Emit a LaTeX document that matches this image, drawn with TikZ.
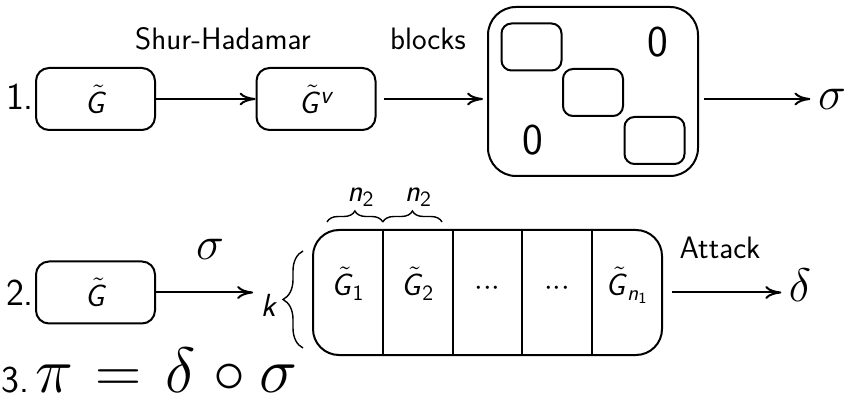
\documentclass[tikz,border=0pt]{standalone}
\usepackage{fix-cm}
\usepackage{amsmath}
\usepackage{tikz}
\usetikzlibrary{arrows.meta,positioning,decorations.pathreplacing}

\newcommand{\gtil}{\rlap{\hspace{2pt}$\tilde{\phantom{\textit{G}}}$}\textit{G}}
\newcommand{\cdts}{${\cdot}{\cdot}{\cdot}$}

\tikzset{
    txt/.style={font=\sffamily\fontsize{15.5}{18}\selectfont},
    num/.style={font=\sffamily\fontsize{19}{22}\selectfont},
    grk/.style={font=\fontsize{23.5}{28}\selectfont},
    zro/.style={font=\sffamily\fontsize{22}{26}\selectfont},
    sml/.style={font=\sffamily\fontsize{16}{19}\selectfont},
    box/.style={txt,draw,rounded corners=6.5pt,minimum width=59.5pt,minimum height=31pt,inner sep=0pt},
    sbox/.style={draw,rounded corners=5pt,minimum width=30pt,minimum height=23.5pt,inner sep=0pt},
    cell/.style={txt,minimum width=33.9pt,minimum height=61.5pt,inner sep=0pt,text height=8pt,text depth=4.5pt},
    arr/.style={-{To[length=8pt,width=6.5pt]}},
    brc/.style={decorate,decoration={brace,amplitude=#1},line width=0.7pt}
}

\begin{document}
\begin{tikzpicture}[x=0.5pt,y=-0.5pt,line width=1pt]
    \useasboundingbox (0,0) rectangle (846,395);

    \node[num] (one) at (20,97) {1.};
    \node[box] (g1) at (95.5,99) {\gtil};
    \node[box] (gv) at (316,99) {\gtil\raisebox{5pt}{\fontsize{12.5}{14}\selectfont\textit{v}}};
    \node[draw,rounded corners=14pt,minimum width=105pt,minimum height=84.5pt] (blk) at (593,91.5) {};
    \node[sbox] (b1) at (531.5,47) {};
    \node[sbox] (b2) at (593,92.5) {};
    \node[sbox] (b3) at (654.5,140.5) {};
    \node[zro] (z1) at (658,42.5) {0};
    \node[zro] (z2) at (533,140.5) {0};
    \node[grk] (sig1) at (832,99) {$\sigma$};
    \node[txt] (shur) at (223,39) {Shur-Hadamar};
    \node[txt] (blocks) at (428,39) {blocks};

    \draw[arr] (g1) -- (gv);
    \draw[arr,shorten <=3.5pt,shorten >=2pt] (gv) -- (gv -| blk.west);
    \draw[arr,shorten <=2.5pt] (blk.east |- gv) -- (sig1);

    \node[num] (two) at (20,293) {2.};
    \node[box] (g2) at (95.5,292.5) {\gtil};
    \node[grk] (sig2) at (210,249) {$\sigma$};
    \node[sml] (k) at (269,305) {\textit{k}};
    \node[cell] (c1) at (347.9,292.5) {\gtil$_{\textsf{1}}$};
    \node[cell,right=0pt of c1] (c2) {\gtil$_{\textsf{2}}$};
    \node[cell,right=0pt of c2] (c3) {\cdts};
    \node[cell,right=0pt of c3] (c4) {\cdts};
    \node[cell,right=0pt of c4] (c5) {\gtil$_{\textit{n}_{\textsf{1}}}$};
    \draw[rounded corners=13pt] (c1.north west) rectangle (c5.south east);
    \foreach \i in {1,...,4}
        \draw (c\i.north east) -- (c\i.south east);
    \draw[brc=5.5pt] ([shift={(7pt,4pt)}]c1.north west) -- ([yshift=4pt]c1.north east)
        node[txt,midway,above=4pt,xshift=3pt] (nl1) {\textit{n}$_{\textsf{2}}$};
    \draw[brc=5.5pt] ([yshift=4pt]c1.north east) -- ([shift={(-5.3pt,4pt)}]c2.north east)
        node[txt,midway,above=4pt,xshift=3pt] (nl2) {\textit{n}$_{\textsf{2}}$};
    \draw[brc=10pt] ([shift={(-5pt,3.5pt)}]c1.south west) -- ([shift={(-5pt,-10.5pt)}]c1.north west);
    \node[txt] (att) at (720,248) {Attack};
    \node[grk] (del) at (800,285) {$\delta$};

    \draw[arr] (g2) -- (k.west |- g2);
    \draw[arr,shorten <=5pt] (c5.east |- g2) -- (del.west |- g2);

    \node[num,anchor=base west,inner sep=0pt] (eq) at (1,392)
        {3.\hspace{3pt}{\fontsize{32}{37}\selectfont${\pi}\hspace{11pt}{=}\hspace{12pt}{\delta}\hspace{9pt}{\circ}\hspace{7pt}{\sigma}$}};
\end{tikzpicture}
\end{document}
